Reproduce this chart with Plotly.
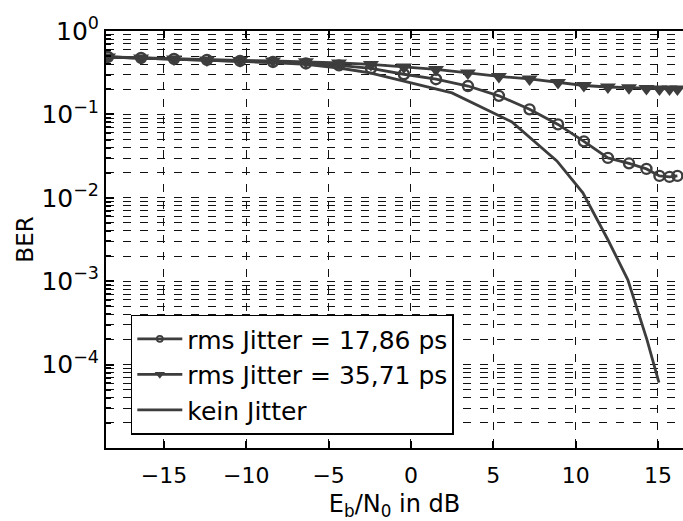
import plotly.graph_objects as go

# Eb/N0 sample points (dB) of the two jitter simulations
ebn0_jitter = [-18.40, -16.39, -14.39, -12.39, -10.38, -8.38, -6.38, -4.37,
               -2.43, -0.43, 1.52, 3.46, 5.34, 7.20, 8.93, 10.50, 11.96,
               13.24, 14.30, 15.09, 15.70, 16.18]
# BER with rms jitter 17,86 ps
ber_jitter_17 = [0.488, 0.475, 0.462, 0.450, 0.437, 0.425, 0.408, 0.387,
                 0.357, 0.303, 0.264, 0.219, 0.167, 0.115, 0.0759, 0.0475,
                 0.0301, 0.0259, 0.0222, 0.0183, 0.0178, 0.0183]
# BER with rms jitter 35,71 ps
ber_jitter_35 = [0.488, 0.475, 0.462, 0.450, 0.443, 0.437, 0.429, 0.414,
                 0.397, 0.370, 0.346, 0.314, 0.285, 0.266, 0.242, 0.222,
                 0.213, 0.208, 0.205, 0.202, 0.202, 0.202]
# BER without jitter
ebn0_ideal = [-18.40, -16.39, -14.39, -12.39, -10.38, -8.38, -6.38, -4.37,
              -2.49, 2.49, 6.13, 8.86, 10.44, 11.96, 13.17, 14.33, 15.06]
ber_ideal = [0.488, 0.475, 0.462, 0.450, 0.431, 0.419, 0.397, 0.360,
             0.314, 0.181, 0.0813, 0.0277, 0.01147, 0.00314, 0.00104,
             0.000199, 6.08e-5]

names = ["rms Jitter = 17,86 ps", "rms Jitter = 35,71 ps", "kein Jitter"]

x_ticks = [-15, -10, -5, 0, 5, 10, 15]
x_ticktext = ["\u221215", "\u221210", "\u22125", "0", "5", "10", "15"]
y_ticks = [1, 0.1, 0.01, 0.001, 0.0001]
y_ticktext = ["10<sup>0</sup>", "10<sup>\u22121</sup>", "10<sup>\u22122</sup>",
              "10<sup>\u22123</sup>", "10<sup>\u22124</sup>"]
y_minor = [k * 10.0 ** e for e in range(-5, 0) for k in range(2, 10)]

LINE = "#3d3d3d"
FONT = "DejaVu Sans"
GRID = "#111111"
DASH = "8px,9px"

fig = go.Figure()

# data traces (legend entries are drawn by separate proxy traces below)
fig.add_trace(go.Scatter(
    x=ebn0_jitter, y=ber_jitter_17, mode="lines+markers", showlegend=False,
    line=dict(color=LINE, width=2.8),
    marker=dict(symbol="circle-open", size=10, color=LINE, line=dict(width=2.4, color=LINE))))
fig.add_trace(go.Scatter(
    x=ebn0_jitter, y=ber_jitter_35, mode="lines+markers", showlegend=False,
    line=dict(color=LINE, width=2.8),
    marker=dict(symbol="triangle-down", size=14, color=LINE)))
fig.add_trace(go.Scatter(
    x=ebn0_ideal, y=ber_ideal, mode="lines", showlegend=False,
    line=dict(color=LINE, width=2.8)))

# legend proxies with small markers
fig.add_trace(go.Scatter(x=[None], y=[None], mode="lines+markers", name=names[0],
                         line=dict(color=LINE, width=2.8),
                         marker=dict(symbol="circle-open", size=6, color=LINE,
                                     line=dict(width=1.8, color=LINE))))
fig.add_trace(go.Scatter(x=[None], y=[None], mode="lines+markers", name=names[1],
                         line=dict(color=LINE, width=2.8),
                         marker=dict(symbol="triangle-down", size=9, color=LINE)))
fig.add_trace(go.Scatter(x=[None], y=[None], mode="lines", name=names[2],
                         line=dict(color=LINE, width=2.8)))

fig.update_layout(
    width=683, height=521,
    margin=dict(l=106, r=0, t=31, b=73),
    paper_bgcolor="white", plot_bgcolor="white",
    font=dict(family=FONT, color="black", size=22),
    showlegend=True,
    legend=dict(x=0.043, y=0.32, xanchor="left", yanchor="top",
                bgcolor="white", bordercolor="black", borderwidth=1.5,
                font=dict(family=FONT, size=25, color="black"),
                itemwidth=45, tracegroupgap=0),
)

fig.update_xaxes(
    range=[-18.52, 16.52], tickmode="array", tickvals=x_ticks, ticktext=x_ticktext,
    ticks="inside", ticklen=7, tickwidth=1.5, tickcolor="black",
    showline=True, linecolor="black", linewidth=2, mirror="ticks",
    showgrid=True, gridcolor=GRID, gridwidth=1.2, griddash=DASH,
    zeroline=False, tickfont=dict(family=FONT, size=22), ticklabelstandoff=7,
    title=dict(text="E<sub>b</sub>/N<sub>0</sub> in dB", font=dict(family=FONT, size=24), standoff=10),
)

fig.update_yaxes(
    type="log", range=[-5, 0], tickmode="array", tickvals=y_ticks, ticktext=y_ticktext,
    ticks="inside", ticklen=8, tickwidth=1.5, tickcolor="black",
    showline=True, linecolor="black", linewidth=2, mirror=False,
    showgrid=True, gridcolor=GRID, gridwidth=1.2, griddash=DASH,
    zeroline=False, tickfont=dict(family=FONT, size=25),
    minor=dict(tickmode="array", tickvals=y_minor, ticks="inside", ticklen=5,
               tickcolor="black", showgrid=True, gridcolor=GRID, gridwidth=1.2,
               griddash=DASH),
    title=dict(text="BER", font=dict(family=FONT, size=23), standoff=1),
)

fig.write_html("out.html")
